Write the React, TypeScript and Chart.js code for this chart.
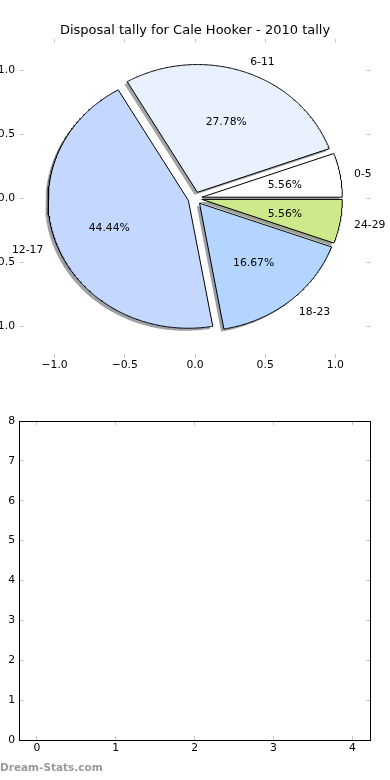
import React, { useEffect, useRef } from 'react';
import { Chart, registerables } from 'chart.js';

Chart.register(...registerables);

// ---------- data ----------
const TITLE = 'Disposal tally for Cale Hooker - 2010 tally';
const categories = ['0-5', '6-11', '12-17', '18-23', '24-29'];
const tallies = [1, 5, 8, 3, 1];
const sliceColors = ['#ffffff', '#e9f0fe', '#c4d8ff', '#b3d5ff', '#cdea8a'];
const explodeOffsets = [0.05, 0.05, 0.05, 0.05, 0.05];

const pieTickValues = [-1, -0.5, 0, 0.5, 1];
const pieTickLabels = ['\u22121.0', '\u22120.5', '0.0', '0.5', '1.0'];

const barXTickValues = [0, 1, 2, 3, 4];
const barXTickLabels = ['0', '1', '2', '3', '4'];
const barYTickValues = [0, 1, 2, 3, 4, 5, 6, 7, 8];
const barYTickLabels = ['0', '1', '2', '3', '4', '5', '6', '7', '8'];

const WATERMARK = 'Dream-Stats.com';

// ---------- style ----------
const FONT = 'DejaVu Sans';
const TICK_FONT = { family: FONT, size: 10.8 };
const TICK_MARK_COLOR = '#c4c4c4';

const RADIUS = 1;
const LABEL_DISTANCE = 1.1;
const PCT_DISTANCE = 0.6;
const SHADOW_OFFSET = -0.02;
const TEXT_NUDGE_PX = 1.5;

function hexToRgb(hex: string) {
  const h = hex.replace('#', '');
  return [0, 2, 4].map((i) => parseInt(h.slice(i, i + 2), 16));
}

function sliceGeometry() {
  const total = tallies.reduce((a, b) => a + b, 0);
  let cum = 0;
  return tallies.map((v, i) => {
    const t1 = (cum / total) * 360;
    const t2 = ((cum + v) / total) * 360;
    cum += v;
    const mid = (((t1 + t2) / 2) * Math.PI) / 180;
    const cx = explodeOffsets[i] * Math.cos(mid);
    const cy = explodeOffsets[i] * Math.sin(mid);
    const pts: { x: number; y: number }[] = [{ x: cx, y: cy }];
    const n = Math.max(2, Math.ceil((t2 - t1) / 0.5));
    for (let k = 0; k <= n; k++) {
      const a = ((t1 + ((t2 - t1) * k) / n) * Math.PI) / 180;
      pts.push({ x: cx + RADIUS * Math.cos(a), y: cy + RADIUS * Math.sin(a) });
    }
    pts.push({ x: cx, y: cy });
    return { pts, mid, cx, cy, pct: ((v / total) * 100).toFixed(2) + '%' };
  });
}

function makeAxis(
  position: string,
  min: number,
  max: number,
  values: number[],
  labels: string[],
  size: number,
  showLabels: boolean,
  padding: number,
  border: boolean
) {
  const horizontal = position === 'top' || position === 'bottom';
  return {
    type: 'linear',
    position,
    min,
    max,
    afterBuildTicks: (scale: any) => {
      scale.ticks = values.map((v) => ({ value: v }));
    },
    afterFit: (scale: any) => {
      if (horizontal) scale.height = size;
      else scale.width = size;
    },
    ticks: {
      display: showLabels,
      autoSkip: false,
      maxRotation: 0,
      minRotation: 0,
      padding,
      color: '#000',
      font: TICK_FONT,
      callback: (_v: any, index: number) => labels[index],
    },
    grid: {
      display: true,
      drawOnChartArea: false,
      drawTicks: true,
      tickLength: -4,
      color: TICK_MARK_COLOR,
      lineWidth: 1,
    },
    border: { display: border, color: '#000', width: 1 },
  };
}

const pieTextPlugin = {
  id: 'pieText',
  afterDatasetsDraw(chart: any) {
    const { ctx } = chart;
    const xs = chart.scales.x;
    const ys = chart.scales.y;
    const geo = sliceGeometry();
    ctx.save();
    ctx.font = `10.8px "${FONT}"`;
    ctx.fillStyle = '#000';
    ctx.textBaseline = 'middle';
    geo.forEach((g, i) => {
      const lx = g.cx + LABEL_DISTANCE * RADIUS * Math.cos(g.mid);
      const ly = g.cy + LABEL_DISTANCE * RADIUS * Math.sin(g.mid);
      ctx.textAlign = lx > 0 ? 'left' : 'right';
      ctx.fillText(categories[i], xs.getPixelForValue(lx), ys.getPixelForValue(ly) + TEXT_NUDGE_PX);
      const px = g.cx + PCT_DISTANCE * RADIUS * Math.cos(g.mid);
      const py = g.cy + PCT_DISTANCE * RADIUS * Math.sin(g.mid);
      ctx.textAlign = 'center';
      ctx.fillText(g.pct, xs.getPixelForValue(px), ys.getPixelForValue(py) + TEXT_NUDGE_PX);
    });
    ctx.restore();
  },
};

function PieChart() {
  const ref = useRef<HTMLCanvasElement | null>(null);
  useEffect(() => {
    if (!ref.current) return;
    const geo = sliceGeometry();
    const datasets: any[] = [];
    geo.forEach((g, i) => {
      const [r, gg, b] = hexToRgb(sliceColors[i]);
      datasets.push({
        label: categories[i] + ' shadow',
        data: g.pts.map((p) => ({ x: p.x + SHADOW_OFFSET, y: p.y + SHADOW_OFFSET })),
        showLine: true,
        fill: 'shape',
        backgroundColor: `rgba(${Math.round(r * 0.3)},${Math.round(gg * 0.3)},${Math.round(b * 0.3)},0.5)`,
        borderWidth: 0,
        pointRadius: 0,
        pointHoverRadius: 0,
        tension: 0,
        order: 2,
      });
    });
    geo.forEach((g, i) => {
      datasets.push({
        label: categories[i],
        data: g.pts,
        showLine: true,
        fill: 'shape',
        backgroundColor: sliceColors[i],
        borderColor: '#000',
        borderWidth: 1,
        borderJoinStyle: 'miter',
        pointRadius: 0,
        pointHoverRadius: 0,
        tension: 0,
        order: 1,
      });
    });
    const chart = new Chart(ref.current, {
      type: 'scatter',
      data: { datasets },
      options: {
        animation: false,
        responsive: false,
        events: [],
        layout: { padding: 0 },
        plugins: {
          legend: { display: false },
          tooltip: { enabled: false },
          title: {
            display: true,
            text: TITLE,
            color: '#000',
            font: { family: FONT, size: 13, weight: 'normal' },
            padding: { top: 23, bottom: 0 },
          },
        },
        scales: {
          x: makeAxis('bottom', -1.25, 1.25, pieTickValues, pieTickLabels, 32, true, 4.5, false),
          x2: makeAxis('top', -1.25, 1.25, pieTickValues, pieTickLabels, 0, false, 0, false),
          y: makeAxis('left', -1.25, 1.25, pieTickValues, pieTickLabels, 19.5, true, 8.5, false),
          y2: makeAxis('right', -1.25, 1.25, pieTickValues, pieTickLabels, 19.5, false, 0, false),
        },
      } as any,
      plugins: [pieTextPlugin],
    } as any);
    return () => chart.destroy();
  }, []);
  return (
    <canvas
      ref={ref}
      width={390}
      height={390}
      style={{ position: 'absolute', left: 0, top: 0, width: 390, height: 390 }}
    />
  );
}

function EmptyChart() {
  const ref = useRef<HTMLCanvasElement | null>(null);
  useEffect(() => {
    if (!ref.current) return;
    const chart = new Chart(ref.current, {
      type: 'scatter',
      data: { datasets: [{ data: [], pointRadius: 0 }] },
      options: {
        animation: false,
        responsive: false,
        events: [],
        layout: { padding: 0 },
        plugins: { legend: { display: false }, tooltip: { enabled: false } },
        scales: {
          x: makeAxis('bottom', -0.22, 4.23, barXTickValues, barXTickLabels, 40, true, 5.8, true),
          x2: makeAxis('top', -0.22, 4.23, barXTickValues, barXTickLabels, 31, false, 0, true),
          y: makeAxis('left', 0, 8, barYTickValues, barYTickLabels, 19.5, true, 8.5, true),
          y2: makeAxis('right', 0, 8, barYTickValues, barYTickLabels, 19.5, false, 0, true),
        },
      } as any,
    } as any);
    return () => chart.destroy();
  }, []);
  return (
    <canvas
      ref={ref}
      width={390}
      height={390}
      style={{ position: 'absolute', left: 0, top: 390, width: 390, height: 390 }}
    />
  );
}

export default function App() {
  return (
    <div
      style={{
        position: 'fixed',
        left: 0,
        top: 0,
        width: 390,
        height: 780,
        background: '#fff',
        overflow: 'hidden',
      }}
    >
      <PieChart />
      <EmptyChart />
      <div
        style={{
          position: 'absolute',
          left: 0,
          top: 762,
          fontFamily: FONT,
          fontSize: 10.5,
          fontWeight: 'bold',
          lineHeight: 1,
          color: '#999',
          whiteSpace: 'nowrap',
        }}
      >
        {WATERMARK}
      </div>
    </div>
  );
}
